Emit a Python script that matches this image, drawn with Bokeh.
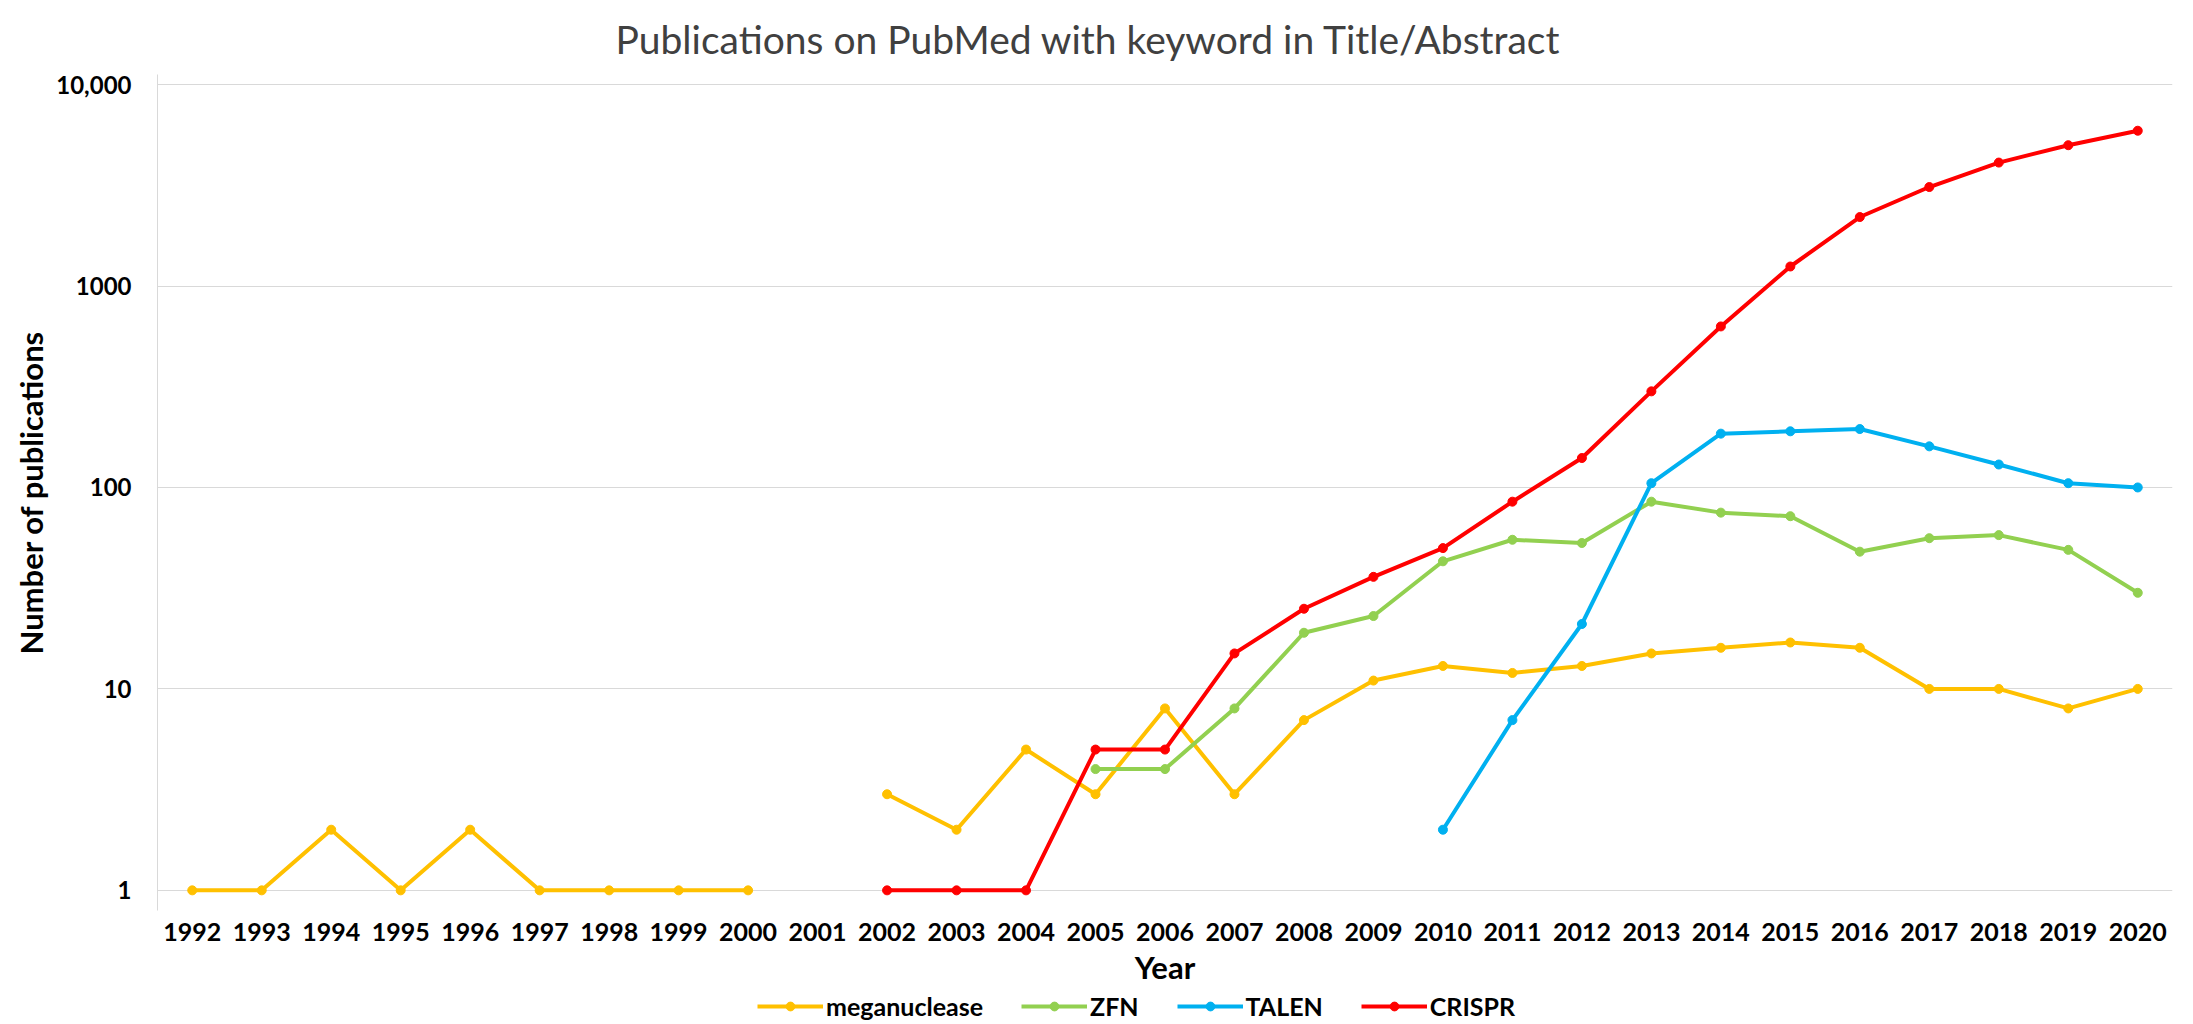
import math
from bokeh.plotting import figure
from bokeh.layouts import column
from bokeh.models import FixedTicker, Legend, LegendItem, Range1d
from bokeh.embed import file_html
from bokeh.resources import INLINE

nan = float("nan")

years = list(range(1992, 2021))
meganuclease = [1, 1, 2, 1, 2, 1, 1, 1, 1, nan, 3, 2, 5, 3, 8, 3, 7, 11, 13, 12,
                13, 15, 16, 17, 16, 10, 10, 8, 10]
zfn = [nan] * 13 + [4, 4, 8, 19, 23, 43, 55, 53, 85, 75, 72, 48, 56, 58, 49, 30]
talen = [nan] * 18 + [2, 7, 21, 105, 185, 190, 195, 160, 130, 105, 100]
crispr = [nan] * 10 + [1, 1, 1, 5, 5, 15, 25, 36, 50, 85, 140, 300, 630, 1250,
                       2200, 3100, 4100, 5000, 5900]

series_names = ["meganuclease", "ZFN", "TALEN", "CRISPR"]
series_values = [meganuclease, zfn, talen, crispr]
series_colors = ["#FFC000", "#92D050", "#00B0F0", "#FF0000"]

y_ticks = [1, 10, 100, 1000, 10000]
y_tick_labels = {1: "1", 10: "10", 100: "100", 1000: "1000", 10000: "10,000"}

FONT = "Lato"

p = figure(frame_width=2015, frame_height=836, y_axis_type="log",
           x_range=Range1d(1991.5, 2020.5),
           y_range=Range1d(10 ** -0.1, 10 ** 4.05),
           output_backend="svg", toolbar_location=None,
           min_border_left=157, min_border_right=21,
           min_border_top=74, min_border_bottom=78)

p.title.text = "Publications on PubMed with keyword in Title/Abstract"
p.title.align = "left"
p.title.offset = 458
p.title.text_font = FONT
p.title.text_font_style = "normal"
p.title.text_font_size = "39px"
p.title.text_color = "#404040"
p.title.standoff = 26

p.outline_line_color = None
p.background_fill_color = "white"

p.xgrid.visible = False
p.ygrid.grid_line_color = "#D9D9D9"
p.ygrid.grid_line_width = 1
p.ygrid.ticker = FixedTicker(ticks=y_ticks)

p.xaxis.ticker = FixedTicker(ticks=years)
p.xaxis.major_label_overrides = {y: str(y) for y in years}
p.yaxis.ticker = FixedTicker(ticks=y_ticks, minor_ticks=[])
p.yaxis.major_label_overrides = y_tick_labels

for ax in (p.xaxis, p.yaxis):
    ax.major_tick_line_color = None
    ax.minor_tick_line_color = None
    ax.major_label_text_font = FONT
    ax.major_label_text_font_style = "bold"
    ax.major_label_text_color = "#000000"
    ax.axis_label_text_font = FONT
    ax.axis_label_text_font_style = "bold"
    ax.axis_label_text_font_size = "31px"
    ax.axis_label_text_color = "#000000"

p.xaxis.major_label_text_font_size = "25px"
p.yaxis.major_label_text_font_size = "24px"
p.xaxis.axis_line_color = None
p.yaxis.axis_line_color = "#D9D9D9"
p.xaxis.major_label_standoff = 6
p.yaxis.major_label_standoff = 20
p.xaxis.axis_label = "Year"
p.yaxis.axis_label = "Number of publications"
p.xaxis.axis_label_standoff = 4
p.yaxis.axis_label_standoff = 3

for name, vals, col in zip(series_names, series_values, series_colors):
    p.line(years, vals, line_color=col, line_width=4)
    p.scatter(years, vals, size=9, fill_color=col, line_color=col)

# legend strip below the chart (its own renderers fall outside its ranges)
lf = figure(width=2193, height=36, x_range=Range1d(0, 1), y_range=Range1d(0, 1),
            output_backend="svg", toolbar_location=None,
            x_axis_location=None, y_axis_location=None,
            min_border_left=0, min_border_right=0,
            min_border_top=0, min_border_bottom=0)
lf.outline_line_color = None
lf.xgrid.visible = False
lf.ygrid.visible = False

items = []
for name, vals, col in zip(series_names, series_values, series_colors):
    r1 = lf.line(years, vals, line_color=col, line_width=4)
    r2 = lf.scatter(years, vals, size=9, fill_color=col, line_color=col)
    items.append(LegendItem(label=name, renderers=[r1, r2]))

legend = Legend(items=items, orientation="horizontal", location=(600, 3),
                label_text_font=FONT, label_text_font_style="bold",
                label_text_font_size="25px", label_text_color="#000000",
                glyph_width=66, glyph_height=22, spacing=38,
                label_standoff=3, border_line_color=None,
                background_fill_alpha=0, margin=0, padding=2)
lf.add_layout(legend, "center")

layout = column(p, lf, spacing=0)
open("out.html", "w").write(file_html(layout, INLINE))
